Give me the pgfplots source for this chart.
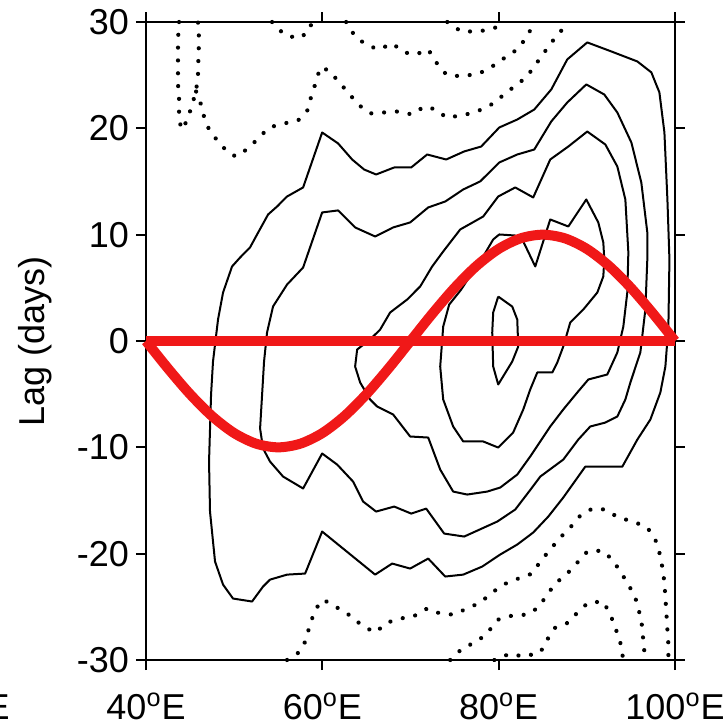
\documentclass[border=0pt]{standalone}
\usepackage{fontspec}
\setmainfont{Liberation Sans}
\usepackage{pgfplots}
\pgfplotsset{compat=1.18}
\definecolor{cred}{RGB}{240,24,24}
\begin{document}
\begin{tikzpicture}[
  poscont/.style={black, line width=1pt, line join=round},
  negcont/.style={black, line width=2.1pt, dash pattern=on 0.01pt off 6.4pt, line cap=round}]
\begin{axis}[name=ax,
  scale only axis, width=264.5pt, height=319pt,
  xmin=40, xmax=100, ymin=-30, ymax=30,
  clip=false,
  xtick={40,60,80,100},
  xticklabels={40\textsuperscript{o}E,60\textsuperscript{o}E,80\textsuperscript{o}E,100\textsuperscript{o}E},
  ytick={-30,-20,-10,0,10,20,30},
  yticklabels={-30,-20,-10,0,10,20,30},
  tick align=outside, tick pos=both, major tick length=5pt,
  tick style={black, line width=1pt},
  axis line style={line width=1pt},
  ticklabel style={font=\fontsize{18}{21}\selectfont},
  xticklabel style={yshift=-8pt},
  ylabel={Lag (days)},
  ylabel style={font=\fontsize{18}{21}\selectfont, at={(axis description cs:-0.21,0.5)}, anchor=center},
]
% positive contours (solid)
\addplot[poscont] coordinates {
(47.38,-5.03)(47.60,-1.93)(48.17,2.02)(48.74,4.56)(49.76,7.01)(50.67,7.85)(51.80,8.80)(52.60,10.02)(53.85,11.90)(54.87,12.65)(56.00,13.59)(57.82,14.44)(59.98,19.61)(61.79,18.58)(63.38,17.07)(64.74,16.13)(66.10,15.66)(68.15,16.32)(70.08,16.32)(71.89,17.54)(74.05,17.07)(76.10,17.83)(78.02,18.29)(80.07,20.08)(82.11,20.83)(84.04,21.77)(85.97,23.66)(87.78,26.48)(90.05,28.08)(92.78,27.23)(95.73,26.29)(97.32,25.26)(98.23,23.38)(98.80,19.61)(99.14,13.31)(99.37,7.67)(99.25,1.36)(98.91,-2.40)(98.34,-4.84)(97.21,-7.38)(95.73,-9.27)(94.03,-11.81)(89.83,-11.81)(87.33,-14.72)(85.63,-16.51)(83.92,-18.01)(82.11,-19.14)(80.18,-20.08)(78.14,-21.21)(75.98,-21.97)(73.94,-22.15)(72.01,-20.46)(69.96,-21.40)(67.92,-20.93)(65.99,-21.97)(59.98,-17.92)(58.05,-21.87)(56.00,-21.97)(54.07,-22.44)(53.28,-23.09)(52.03,-24.50)(49.87,-24.22)(48.74,-22.91)(47.83,-20.74)(47.26,-16.04)(47.15,-11.34)(47.38,-5.03)};
\addplot[poscont] coordinates {
(52.94,-8.23)(53.17,-5.03)(53.39,-1.93)(53.73,0.80)(54.41,3.25)(56.00,5.31)(57.82,6.91)(59.98,12.09)(61.79,12.28)(63.72,10.68)(65.99,9.83)(68.03,10.68)(69.96,11.15)(72.01,12.56)(73.94,13.12)(75.98,14.25)(77.91,15.01)(80.07,16.79)(82.11,17.54)(84.04,18.01)(85.97,20.65)(87.78,22.43)(89.94,24.13)(91.98,23.18)(93.46,21.49)(95.05,18.67)(96.18,14.91)(96.86,10.21)(96.86,7.67)(96.64,2.96)(96.07,-1.08)(94.94,-3.90)(94.37,-5.50)(93.46,-7.10)(92.10,-7.67)(90.39,-8.04)(89.03,-9.27)(87.33,-11.15)(84.72,-12.75)(83.36,-14.25)(81.88,-15.85)(79.84,-16.98)(76.09,-18.39)(73.82,-18.11)(71.78,-15.76)(70.08,-16.23)(68.15,-15.57)(66.10,-16.04)(64.63,-15.10)(63.49,-13.22)(61.68,-11.62)(59.98,-10.58)(57.82,-13.87)(55.55,-12.75)(54.07,-11.34)(53.28,-10.11)(52.94,-8.23)};
\addplot[poscont] coordinates {
(63.72,-2.40)(63.95,-0.80)(65.42,0.14)(66.56,1.08)(67.69,2.68)(69.62,3.90)(71.10,5.13)(72.46,7.01)(73.71,8.42)(75.64,10.49)(78.25,11.71)(79.95,13.59)(81.88,14.44)(83.92,13.50)(85.85,17.07)(87.90,18.29)(90.05,19.70)(92.10,18.48)(93.46,16.41)(94.37,13.31)(94.71,8.33)(94.59,4.56)(94.14,1.36)(93.46,-1.08)(92.32,-3.15)(90.17,-3.62)(88.92,-4.84)(87.33,-6.44)(85.85,-8.04)(83.58,-10.86)(82.11,-12.56)(80.18,-13.78)(78.70,-14.16)(76.43,-14.44)(74.84,-14.16)(73.37,-12.09)(72.01,-9.08)(69.96,-8.98)(68.03,-6.91)(66.22,-6.16)(65.42,-5.50)(64.29,-3.90)(63.72,-2.40)};
\addplot[poscont] coordinates {
(73.37,-2.40)(73.71,1.36)(74.39,3.43)(75.75,4.84)(77.23,6.73)(78.25,7.95)(79.38,9.55)(80.07,10.02)(81.88,9.92)(82.79,9.36)(84.15,7.01)(85.85,11.43)(87.90,10.77)(89.94,13.31)(91.30,11.15)(91.87,9.27)(91.98,7.67)(91.87,6.07)(91.19,4.56)(89.60,2.96)(88.12,1.74)(87.33,-0.52)(86.65,-2.02)(86.08,-2.96)(84.38,-2.96)(83.58,-4.56)(82.79,-6.44)(81.65,-8.60)(79.95,-10.02)(78.25,-9.45)(75.98,-9.45)(74.84,-8.04)(73.71,-5.50)(73.37,-2.40)};
\addplot[poscont] coordinates {
(79.95,4.18)(81.54,3.24)(82.11,2.02)(82.22,-0.52)(81.54,-1.93)(79.95,-4.09)(79.38,-2.40)(79.27,0.80)(79.38,2.68)(79.95,4.18)};
% negative contours (dotted)
\addplot[negcont] coordinates {
(43.75,30)(43.63,28.36)(43.63,26.95)(43.63,25.54)(43.63,24.13)(43.75,22.71)(43.75,21.30)(43.97,19.89)(44.54,20.55)(45.11,21.86)(45.56,23.18)(45.90,24.60)(45.90,25.44)(46.02,28.36)(45.90,30)};
\addplot[negcont] coordinates {
(45.68,23.46)(46.24,22.24)(46.58,21.11)(47.15,19.89)(48.17,18.76)(49.31,17.73)(50.21,17.35)(51.58,18.10)(52.83,19.14)(53.96,20.08)(55.66,20.46)(57.25,20.74)(58.39,21.77)(58.73,23.00)(59.30,24.41)(59.75,25.73)(60.77,25.44)(61.91,24.32)(62.93,23.37)(64.06,22.24)(65.42,21.40)(66.90,21.49)(68.60,21.59)(70.19,21.30)(71.55,22.05)(72.92,21.77)(74.05,21.02)(75.87,21.21)(77.57,21.59)(79.16,22.24)(80.63,23.18)(81.77,23.94)(83.13,24.79)(84.04,25.82)(85.17,27.14)(86.08,28.17)(87.22,29.30)(87.67,30)};
\addplot[negcont] coordinates {
(62.70,30)(63.72,28.64)(65.08,27.80)(66.45,27.42)(67.92,27.99)(69.28,27.14)(70.64,26.95)(72.01,27.42)(72.92,26.20)(74.05,25.07)(75.75,24.88)(77.80,25.16)(79.27,25.82)(80.41,26.48)(82.11,27.42)(83.24,28.64)(84.04,30)};
\addplot[negcont] coordinates {(74.17,30)(75.75,29.11)(77.80,29.11)(79.72,29.49)(80.75,30)};
\addplot[negcont] coordinates {(54.30,30)(55.66,28.83)(57.25,28.45)(58.39,29.02)(58.84,30)};
\addplot[negcont] coordinates {
(56.00,-30)(57.48,-29.21)(58.05,-28.27)(58.61,-26.67)(59.18,-25.26)(60.09,-24.32)(61.68,-25.07)(63.15,-25.82)(64.52,-26.76)(65.99,-27.42)(67.35,-26.48)(68.83,-26.10)(70.30,-25.92)(71.89,-25.16)(73.37,-25.63)(74.84,-25.73)(76.43,-25.16)(77.91,-24.60)(79.27,-23.66)(80.52,-22.90)(82.22,-22.34)(83.81,-21.87)(84.72,-20.74)(85.85,-19.61)(86.99,-18.48)(88.12,-17.54)(89.26,-16.42)(90.62,-15.76)(92.10,-15.85)(93.57,-16.60)(95.27,-16.98)(96.86,-17.54)(97.77,-18.67)(98.23,-19.89)(98.57,-21.30)(98.80,-22.71)(98.91,-24.13)(99.02,-25.54)(99.14,-27.14)(99.25,-28.55)(99.25,-30)};
\addplot[negcont] coordinates {
(74.50,-30)(75.98,-28.83)(77.57,-28.27)(78.82,-27.33)(79.95,-26.20)(81.54,-25.82)(83.24,-25.73)(84.49,-25.07)(85.51,-23.85)(86.42,-22.81)(87.78,-21.87)(88.92,-20.84)(90.05,-19.80)(91.75,-19.71)(92.89,-20.55)(93.80,-21.68)(94.71,-22.90)(95.50,-24.13)(95.96,-25.54)(96.30,-26.95)(96.41,-28.36)(96.64,-30)};
\addplot[negcont] coordinates {
(79.50,-30)(81.31,-29.40)(82.79,-29.68)(84.72,-29.30)(85.51,-28.08)(86.42,-26.95)(87.90,-26.48)(89.03,-25.45)(90.17,-24.60)(91.87,-24.51)(92.67,-25.73)(93.23,-26.95)(93.80,-28.36)(94.14,-30)};
% red lines
\addplot[cred, line width=5pt] coordinates {(40,0)(100,0)};
\addplot[cred, line width=5pt, smooth] coordinates {
(40,0)(42.5,-2.588)(45,-5)(47.5,-7.071)(50,-8.660)(52.5,-9.659)(55,-10)(57.5,-9.659)(60,-8.660)(62.5,-7.071)(65,-5)(67.5,-2.588)(70,0)(72.5,2.588)(75,5)(77.5,7.071)(80,8.660)(82.5,9.659)(85,10)(87.5,9.659)(90,8.660)(92.5,7.071)(95,5)(97.5,2.588)(100,0)};
\end{axis}
\node[anchor=base east, inner sep=0pt, font=\fontsize{18}{21}\selectfont] at ([shift={(-68pt,-29.5pt)}]ax.south west) {E};
\pgfresetboundingbox
\path[use as bounding box] ([shift={(-73pt,-32pt)}]ax.south west) rectangle ([shift={(291pt,330pt)}]ax.south west);
\end{tikzpicture}
\end{document}
